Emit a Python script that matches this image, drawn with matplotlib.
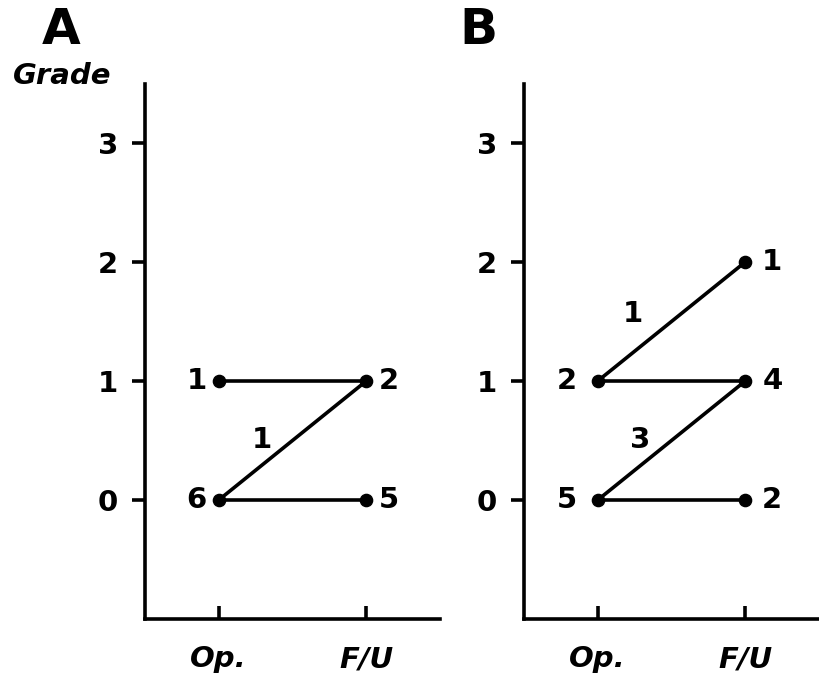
import matplotlib
matplotlib.use("Agg")
import matplotlib.pyplot as plt

plt.rcParams['font.family'] = ['DejaVu Sans']

timepoints = ["Op.", "F/U"]
grade_ticks = [0, 1, 2, 3]

# Panel A
a_op_grades = [1, 0]
a_op_counts = [1, 6]
a_fu_grades = [1, 0]
a_fu_counts = [2, 5]
a_links_from = [1, 0, 0]
a_links_to = [1, 1, 0]
a_link_labels = ["", "1", ""]

# Panel B
b_op_grades = [1, 0]
b_op_counts = [2, 5]
b_fu_grades = [2, 1, 0]
b_fu_counts = [1, 4, 2]
b_links_from = [1, 1, 0, 0]
b_links_to = [2, 1, 1, 0]
b_link_labels = ["1", "", "3", ""]

W, H = 820, 681
fig = plt.figure(figsize=(W / 100, H / 100), dpi=100)

lw = 2.6
fs = 21


def draw(ax, op_g, op_c, fu_g, fu_c, lf, lt, ll, letter, letter_x,
         left_off, right_off, lab_dx, show_grade):
    for f, t, lab in zip(lf, lt, ll):
        ax.plot([0, 1], [f, t], color='black', lw=lw, solid_capstyle='butt', zorder=2)
        if lab:
            ax.text(lab_dx[f], f + 0.5 + (0.06 if f > 0 else 0), lab,
                    ha='center', va='center', fontsize=fs, fontweight='bold')
    ax.plot([0] * len(op_g), op_g, 'o', color='black', ms=8.8, zorder=3)
    ax.plot([1] * len(fu_g), fu_g, 'o', color='black', ms=8.8, zorder=3)
    for g, c in zip(op_g, op_c):
        ax.text(left_off, g, str(c), ha='left', va='center', fontsize=fs, fontweight='bold')
    for g, c in zip(fu_g, fu_c):
        ax.text(1 + right_off, g, str(c), ha='left', va='center', fontsize=fs, fontweight='bold')

    ax.set_xlim(-0.5, 1.5)
    ax.set_ylim(-1, 3.5)
    ax.set_xticks([0, 1])
    ax.set_xticklabels(timepoints, fontsize=fs, fontweight='bold', fontstyle='italic')
    ax.set_yticks(grade_ticks)
    ax.set_yticklabels([str(g) for g in grade_ticks], fontsize=fs, fontweight='bold')
    ax.tick_params(axis='x', direction='in', length=9.5, width=lw, pad=19)
    ax.tick_params(axis='y', direction='out', length=9.5, width=lw, pad=10)
    for s in ['top', 'right']:
        ax.spines[s].set_visible(False)
    for s in ['left', 'bottom']:
        ax.spines[s].set_linewidth(lw)
    ax.text(letter_x, 1.099, letter, transform=ax.transAxes, fontsize=36,
            fontweight='bold', ha='center', va='center')
    if show_grade:
        ax.text(-0.28, 1.014, "Grade", transform=ax.transAxes, fontsize=21,
                fontweight='bold', fontstyle='italic', ha='center', va='center')


bottom = (H - 619) / H
height = 535.5 / H
width = 295 / W
axA = fig.add_axes([145 / W, bottom, width, height])
axB = fig.add_axes([524 / W, bottom, width, height])

draw(axA, a_op_grades, a_op_counts, a_fu_grades, a_fu_counts,
     a_links_from, a_links_to, a_link_labels, "A", -0.285,
     -0.22, 0.085, {0: 0.29, 1: 0.24}, True)
draw(axB, b_op_grades, b_op_counts, b_fu_grades, b_fu_counts,
     b_links_from, b_links_to, b_link_labels, "B", -0.155,
     -0.275, 0.115, {0: 0.29, 1: 0.24}, False)

fig.savefig("out.png", dpi=100)
